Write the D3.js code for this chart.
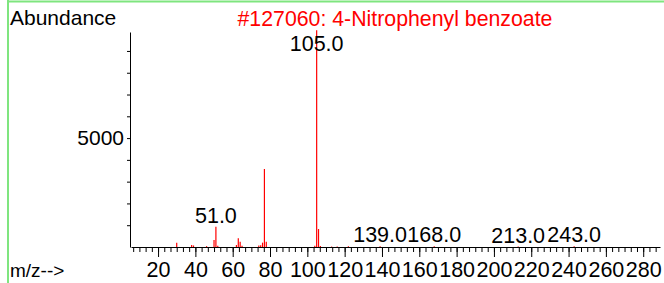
<!DOCTYPE html>
<html>
<head>
<meta charset="utf-8">
<script src="https://cdn.jsdelivr.net/npm/d3@7"></script>
<style>
  body { margin: 0; background: #fff; }
  svg { display: block; font-family: "Liberation Sans", Arial, sans-serif; }
</style>
</head>
<body>
<script>
// spectrum peaks (m/z and abundance)
var mz        = [30, 38, 39, 46, 50, 51, 52, 62, 63, 64, 65, 74, 75, 76, 77, 78, 104, 105, 106, 107, 113, 116, 122, 139, 168, 213, 243];
var abundance = [200, 90, 70, 40, 320, 930, 60, 90, 400, 245, 60, 70, 80, 200, 3580, 245, 60, 9950, 825, 50, 20, 20, 40, 40, 30, 20, 40];
// peaks that carry a label
var labelMz = [51, 105, 139, 168, 213, 243];
var xTickLabels = [20, 40, 60, 80, 100, 120, 140, 160, 180, 200, 220, 240, 260, 280];
var yTicks = [1000, 2000, 3000, 4000, 5000, 6000, 7000, 8000, 9000];
var yTickLabels = [5000];
var title = "#127060: 4-Nitrophenyl benzoate";

var W = 664, H = 283;
var svg = d3.select("body").append("svg").attr("width", W).attr("height", H);

// green frame (top + left)
svg.append("line").attr("x1", 7).attr("x2", W).attr("y1", 1.5).attr("y2", 1.5)
  .attr("stroke", "#7fe57f").attr("stroke-width", 2);
svg.append("line").attr("x1", 8).attr("x2", 8).attr("y1", 0).attr("y2", H)
  .attr("stroke", "#7fe57f").attr("stroke-width", 2);

var xscale = d3.scaleLinear().domain([5.5, 289]).range([131, 660]);
var yscale = d3.scaleLinear().domain([0, 9870]).range([247, 32]);

// minor ticks every 20/6 units
var minor = [];
for (var i = 2; i <= 86; i++) minor.push(i * 20 / 6);

var xMinor = d3.axisBottom(xscale).tickValues(minor).tickSize(5).tickFormat("").tickSizeOuter(0);
var xMajor = d3.axisBottom(xscale).tickValues(xTickLabels).tickSize(10).tickFormat(d3.format("d")).tickSizeOuter(0);

var gx = svg.append("g").attr("transform", "translate(0," + yscale(0) + ")").call(xMinor);
var gx2 = svg.append("g").attr("transform", "translate(0," + yscale(0) + ")").call(xMajor);
gx2.select(".domain").remove();
gx2.selectAll(".tick text").attr("y", 30).attr("dy", 0)
  .style("font-size", "21.5px").style("font-family", "Liberation Sans, Arial, sans-serif").attr("fill", "#000");
svg.selectAll(".tick line").attr("stroke", "#000");
gx.select(".domain").attr("stroke", "#000");

var yAxis = d3.axisLeft(yscale).tickValues(yTicks).tickSize(3).tickSizeOuter(0)
  .tickFormat(function(d) { return yTickLabels.indexOf(d) >= 0 ? d : ""; });
var gy = svg.append("g").attr("transform", "translate(130,0)").call(yAxis);
gy.selectAll(".tick text").attr("x", -6)
  .style("font-size", "21px").style("font-family", "Liberation Sans, Arial, sans-serif").attr("fill", "#000");
gy.select(".domain").attr("stroke", "#000");
gy.selectAll(".tick line").attr("stroke", "#000");

// peaks
svg.append("g").selectAll("line")
  .data(mz)
  .enter().append("line")
  .attr("x1", function(d) { return xscale(d); })
  .attr("x2", function(d) { return xscale(d); })
  .attr("y1", yscale(0))
  .attr("y2", function(d, i) { return yscale(abundance[i]); })
  .attr("stroke", "#ff0000")
  .attr("stroke-width", 1.2);

// peak labels
svg.append("g").selectAll("text")
  .data(labelMz)
  .enter().append("text")
  .attr("x", function(d) { return xscale(d); })
  .attr("y", function(d) { return Math.max(yscale(abundance[mz.indexOf(d)]) - 4, 51); })
  .attr("text-anchor", "middle")
  .style("font-size", "21.5px")
  .text(function(d) { return d.toFixed(1); });

svg.append("text").attr("x", 10).attr("y", 25).style("font-size", "21px").text("Abundance");
svg.append("text").attr("x", 395).attr("y", 26).attr("text-anchor", "middle")
  .attr("fill", "#ff0000").style("font-size", "21.3px").text(title);
svg.append("text").attr("x", 10).attr("y", 277).style("font-size", "19px").text("m/z-->");
</script>
</body>
</html>
